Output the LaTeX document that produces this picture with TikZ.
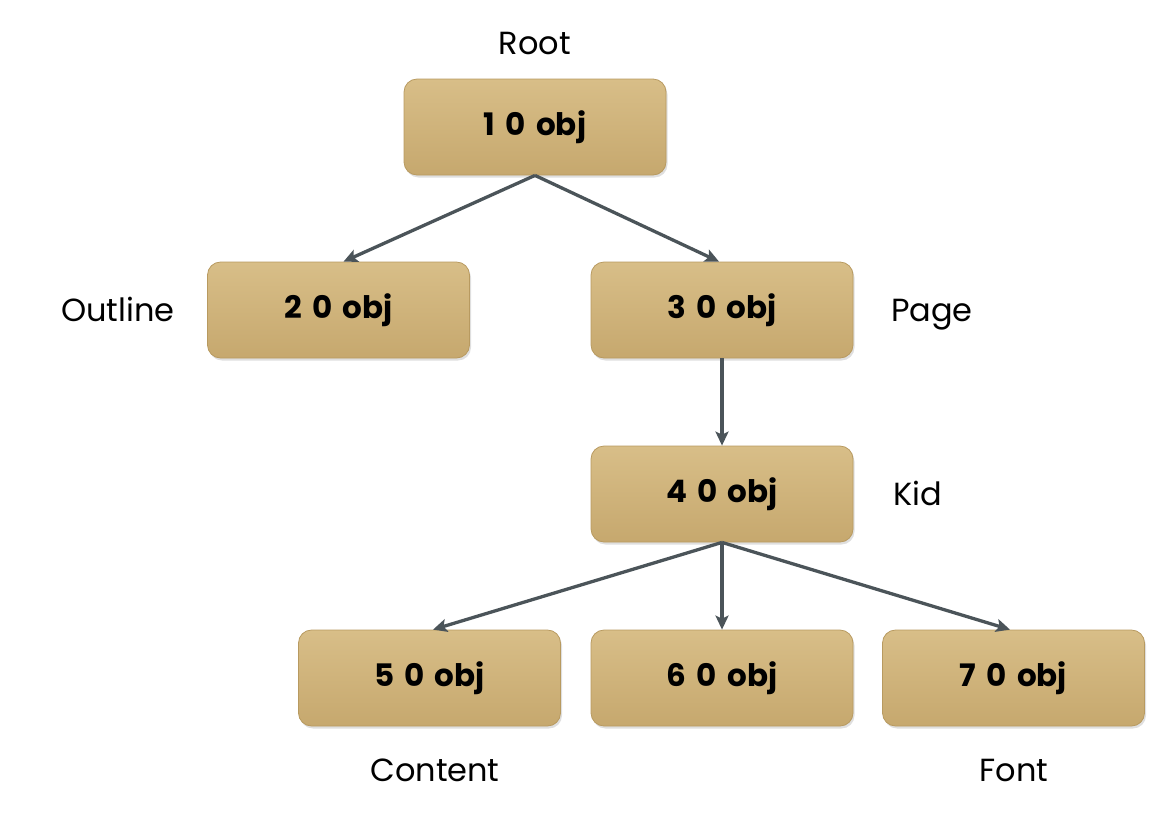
\documentclass[tikz,border=0pt]{standalone}
\usepackage{fontspec}
\setmainfont{Poppins}
\usepackage{tikz}
\usetikzlibrary{arrows.meta,shadows}
\definecolor{goldtop}{HTML}{D8BE88}
\definecolor{goldbot}{HTML}{C6A86E}
\definecolor{goldline}{HTML}{B89A60}
\definecolor{arrowgray}{HTML}{4B5459}
\tikzset{
  obj/.style={draw=goldline, line width=0.8pt, rounded corners=13pt,
    top color=goldtop, bottom color=goldbot,
    minimum width=262pt, minimum height=96pt, inner sep=0pt,
    drop shadow={shadow xshift=1.5pt, shadow yshift=-2.5pt, opacity=0.25},
    font={\fontsize{31pt}{34}\selectfont\bfseries\spaceskip=0.33em}},
  tag/.style={anchor=base, font={\fontsize{32pt}{35}\selectfont}},
  link/.style={draw=arrowgray, line width=3.3pt,
    -{Stealth[length=14pt,width=13pt,inset=3pt]}}}

\begin{document}
\begin{tikzpicture}[x=1pt,y=-1pt]
\tikzstyle{every node}+=[inner sep=0pt]
\useasboundingbox (0,0) rectangle (1166,820);
\node [obj] (one) at (535,127) {1 0 obj};
\node [obj] (two) at (338.5,310) {2 0 obj};
\node [obj] (three) at (722,310) {3 0 obj};
\node [obj] (four) at (722,494) {4 0 obj};
\node [obj] (five) at (429.5,678) {5 0 obj};
\node [obj] (six) at (722,678) {6 0 obj};
\node [obj] (seven) at (1013.5,678) {7 0 obj};
\node [tag] (root) at (535,54) {Root};
\node [tag] (outline) at (118,321) {Outline};
\node [tag] (page) at (932,321) {Page};
\node [tag] (kid) at (918,505) {Kid};
\node [tag] (content) at (435,781) {Content};
\node [tag] (font) at (1014,781) {Font};
\draw [link] (one.south) -- ([xshift=5pt]two.north);
\draw [link] (one.south) -- ([xshift=-3pt]three.north);
\draw [link] (three.south) -- (four.north);
\draw [link] (four.south) -- ([xshift=3.5pt]five.north);
\draw [link] (four.south) -- (six.north);
\draw [link] (four.south) -- ([xshift=-3.5pt]seven.north);
\end{tikzpicture}
\end{document}
